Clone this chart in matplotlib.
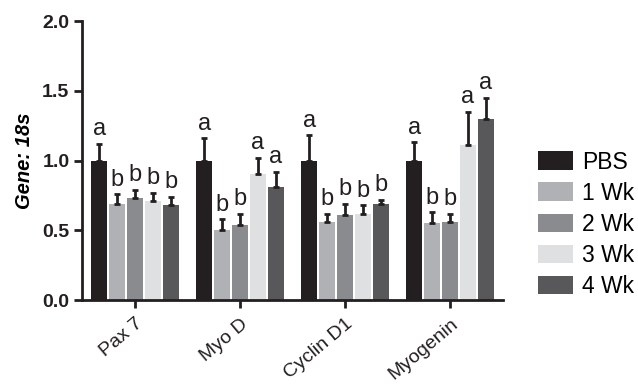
import numpy as np
import matplotlib
matplotlib.use("Agg")
import matplotlib.pyplot as plt
from matplotlib.patches import Patch

plt.rcParams["font.family"] = ["Liberation Sans", "DejaVu Sans"]

genes = ["Pax 7", "Myo D", "Cyclin D1", "Myogenin"]
groups = ["PBS", "1 Wk", "2 Wk", "3 Wk", "4 Wk"]
colors = ["#231f20", "#b0b1b4", "#8a8b8e", "#dfe0e2", "#58585a"]

# mean values per group, one entry per gene
pbs = [1.00, 1.00, 1.00, 1.00]
wk1 = [0.69, 0.50, 0.56, 0.55]
wk2 = [0.73, 0.54, 0.61, 0.56]
wk3 = [0.71, 0.90, 0.62, 1.11]
wk4 = [0.68, 0.81, 0.69, 1.30]

# upper error (SEM)
pbs_err = [0.12, 0.16, 0.18, 0.13]
wk1_err = [0.07, 0.08, 0.06, 0.08]
wk2_err = [0.06, 0.08, 0.08, 0.06]
wk3_err = [0.06, 0.12, 0.06, 0.24]
wk4_err = [0.06, 0.11, 0.03, 0.15]

letters = [
    ["a", "a", "a", "a"],
    ["b", "b", "b", "b"],
    ["b", "b", "b", "b"],
    ["b", "a", "b", "a"],
    ["b", "a", "b", "a"],
]

means = [pbs, wk1, wk2, wk3, wk4]
errs = [pbs_err, wk1_err, wk2_err, wk3_err, wk4_err]

fig = plt.figure(figsize=(6.38, 3.87), dpi=100)
ax = fig.add_axes([0.1285, 0.2248, 0.66, 0.7209])

x = np.arange(len(genes))
step = 0.171
width = 0.152
for i, (m, e, c, g) in enumerate(zip(means, errs, colors, groups)):
    pos = x + (i - 2) * step
    ax.bar(pos, m, width, color=c, label=g, zorder=2)
    ax.errorbar(pos, m, yerr=[np.zeros(len(m)), e], fmt="none",
                ecolor="#231f20", elinewidth=2, capsize=2.2, capthick=2, zorder=3)
    for xp, yv, ev, lt in zip(pos, m, e, letters[i]):
        ax.annotate(lt, (xp, yv + ev), xytext=(0, 2.5), textcoords="offset points",
                    ha="center", va="bottom", fontsize=17, color="#231f20")

ax.set_xlim(-0.505, 3.505)
ax.set_ylim(0, 2.0)
ax.set_yticks([0.0, 0.5, 1.0, 1.5, 2.0])
ax.set_yticklabels(["0.0", "0.5", "1.0", "1.5", "2.0"], fontweight="bold", fontsize=14)
ax.set_xticks(x)
ax.set_xticklabels(genes, rotation=40, ha="right", rotation_mode="anchor",
                   fontsize=14)
ax.set_ylabel("Gene: 18s", fontweight="bold", fontstyle="italic", fontsize=14.5,
              labelpad=6)

for s in ["top", "right"]:
    ax.spines[s].set_visible(False)
for s in ["left", "bottom"]:
    ax.spines[s].set_linewidth(2)
    ax.spines[s].set_color("#231f20")
ax.tick_params(axis="both", width=2, length=6, color="#231f20", labelcolor="#231f20")
ax.tick_params(axis="y", pad=3)
ax.tick_params(axis="x", pad=5)

handles = [Patch(facecolor=c, label=g) for c, g in zip(colors, groups)]
fig.legend(handles=handles, loc="center left", bbox_to_anchor=(0.843, 0.421),
           frameon=False, fontsize=16.5, handlelength=1.53, handleheight=0.85,
           labelspacing=0.35, handletextpad=0.4, borderpad=0, borderaxespad=0)

fig.savefig("out.png", dpi=100)
